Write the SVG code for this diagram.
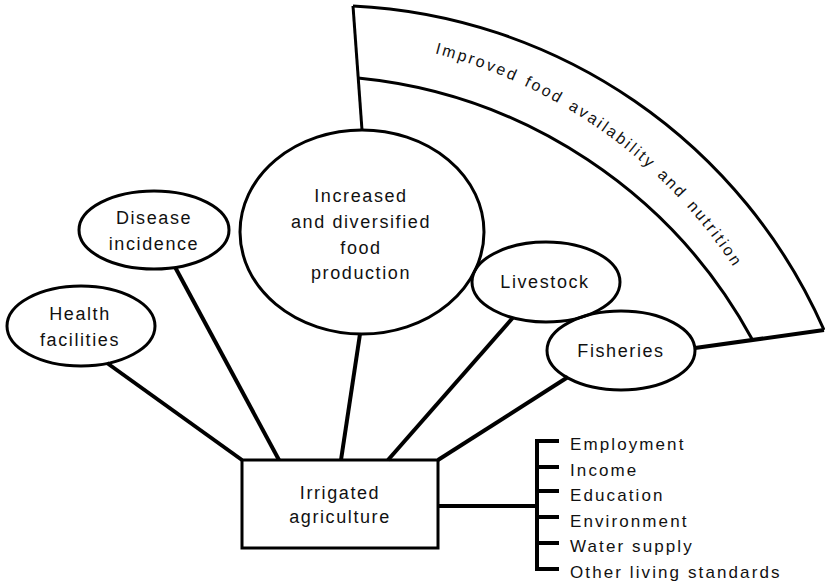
<svg xmlns="http://www.w3.org/2000/svg" xmlns:xlink="http://www.w3.org/1999/xlink" width="825" height="584" viewBox="0 0 825 584">
  <style>
    .shape { fill: none; stroke: #000; stroke-width: 3; }
    .link { fill: none; stroke: #000; stroke-width: 4; stroke-linecap: butt; }
    .label { font-family: "Liberation Sans", Arial, Helvetica, sans-serif; font-size: 18px; letter-spacing: 1.6px; fill: #111; text-anchor: middle; }
    .item { font-family: "Liberation Sans", Arial, Helvetica, sans-serif; font-size: 17px; letter-spacing: 2.1px; fill: #111; }
    .band { font-family: "Liberation Sans", Arial, Helvetica, sans-serif; font-size: 16px; letter-spacing: 2.4px; word-spacing: 2px; fill: #111; }
  </style>
  <defs>
    <path id="bandText" d="M360,39.8 A510,510 0 0 1 760,312.7"/>
  </defs>
  <rect width="825" height="584" fill="#fff"/>

  <!-- connectors -->
  <g id="connectors">
    <line class="link" x1="107" y1="363" x2="242" y2="460"/>
    <line class="link" x1="175" y1="267" x2="279" y2="460"/>
    <line class="link" x1="360" y1="334" x2="341" y2="460"/>
    <line class="link" x1="513" y1="317.5" x2="388" y2="460"/>
    <line class="link" x1="568" y1="377" x2="438" y2="460"/>
    <line class="link" x1="438" y1="506" x2="537" y2="506"/>
    <line class="link" x1="695" y1="348" x2="824" y2="330"/>
  </g>

  <!-- outcome band -->
  <g id="food-availability">
    <path class="shape" d="M353,6 A543,543 0 0 1 824,330"/>
    <path class="shape" d="M358,78 A505,505 0 0 1 752,339"/>
    <line class="shape" x1="353" y1="6" x2="362" y2="130"/>
    <text class="band"><textPath xlink:href="#bandText" href="#bandText" startOffset="76">Improved food availability and nutrition</textPath></text>
  </g>

  <g id="food-production">
    <ellipse class="shape" cx="362" cy="232" rx="122" ry="102"/>
    <text class="label" x="361" y="202">Increased</text>
    <text class="label" x="361" y="228">and diversified</text>
    <text class="label" x="361" y="254">food</text>
    <text class="label" x="361" y="279">production</text>
  </g>

  <g id="disease-incidence">
    <ellipse class="shape" cx="154" cy="230" rx="75" ry="39"/>
    <text class="label" x="154" y="224">Disease</text>
    <text class="label" x="154" y="250">incidence</text>
  </g>

  <g id="health-facilities">
    <ellipse class="shape" cx="81" cy="326" rx="74" ry="40"/>
    <text class="label" x="80" y="320">Health</text>
    <text class="label" x="80" y="346">facilities</text>
  </g>

  <g id="livestock">
    <ellipse class="shape" cx="546" cy="282" rx="74" ry="40"/>
    <text class="label" x="545" y="288">Livestock</text>
  </g>

  <g id="fisheries">
    <ellipse class="shape" cx="621" cy="350.5" rx="74" ry="39.5"/>
    <text class="label" x="621" y="357">Fisheries</text>
  </g>

  <g id="irrigated-agriculture">
    <rect class="shape" x="242" y="460" width="196" height="88"/>
    <text class="label" x="340" y="499">Irrigated</text>
    <text class="label" x="340" y="523">agriculture</text>
  </g>

  <!-- other benefits list -->
  <g id="other-benefits">
    <path class="link" d="M559,441 H537 V569 H559 M537,467 H559 M537,491 H559 M537,517 H559 M537,543 H559"/>
    <text class="item" x="570" y="450">Employment</text>
    <text class="item" x="570" y="475.5">Income</text>
    <text class="item" x="570" y="501">Education</text>
    <text class="item" x="570" y="526.5">Environment</text>
    <text class="item" x="570" y="552">Water supply</text>
    <text class="item" x="570" y="577.5">Other living standards</text>
  </g>
</svg>
